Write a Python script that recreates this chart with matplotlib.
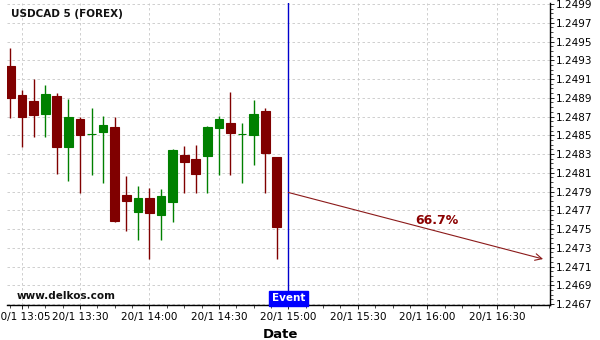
import matplotlib
matplotlib.use("Agg")
import matplotlib.pyplot as plt
from matplotlib.patches import Rectangle
from matplotlib.ticker import MultipleLocator, FixedLocator

# ---- data ----
times = ["13:00", "13:05", "13:10", "13:15", "13:20", "13:25", "13:30", "13:35",
         "13:40", "13:45", "13:50", "13:55", "14:00", "14:05", "14:10", "14:15",
         "14:20", "14:25", "14:30", "14:35", "14:40", "14:45", "14:50", "14:55"]
opens  = [1.24924, 1.24893, 1.24887, 1.24873, 1.24892, 1.24838, 1.24867, 1.24851,
          1.24853, 1.24859, 1.24786, 1.24768, 1.24783, 1.24765, 1.24779, 1.24829,
          1.24825, 1.24828, 1.24858, 1.24863, 1.24851, 1.24850, 1.24876, 1.24827]
highs  = [1.24943, 1.24898, 1.24910, 1.24904, 1.24895, 1.24889, 1.24870, 1.24879,
          1.24871, 1.24869, 1.24807, 1.24796, 1.24794, 1.24793, 1.24835, 1.24839,
          1.24840, 1.24860, 1.24871, 1.24896, 1.24863, 1.24888, 1.24879, 1.24827]
lows   = [1.24868, 1.24837, 1.24848, 1.24848, 1.24809, 1.24801, 1.24788, 1.24808,
          1.24799, 1.24758, 1.24748, 1.24738, 1.24718, 1.24738, 1.24758, 1.24788,
          1.24788, 1.24788, 1.24808, 1.24808, 1.24799, 1.24818, 1.24788, 1.24718]
closes = [1.24890, 1.24869, 1.24872, 1.24894, 1.24837, 1.24869, 1.24850, 1.24851,
          1.24861, 1.24759, 1.24780, 1.24783, 1.24767, 1.24785, 1.24834, 1.24822,
          1.24809, 1.24859, 1.24867, 1.24852, 1.24851, 1.24873, 1.24831, 1.24752]

event_time = "15:00"
arrow_start = ("15:00", 1.24789)
arrow_end = ("16:50", 1.24718)
arrow_label = "66.7%"
title = "USDCAD 5 (FOREX)"
watermark = "www.delkos.com"
xtick_times = ["13:05", "13:30", "14:00", "14:30", "15:00", "15:30", "16:00", "16:30"]
date_prefix = "20/1 "


def tmin(s):
    h, m = s.split(":")
    return (int(h) - 13) * 60 + int(m)


RED = "#800000"
GREEN = "#008000"

fig = plt.figure(figsize=(6, 3.4), dpi=100)
ax = fig.add_axes([0.0117, 0.103, 0.905, 0.888])

width = 3.75
for t, o, h, l, c in zip(times, opens, highs, lows, closes):
    x = tmin(t)
    col = GREEN if c >= o else RED
    ax.vlines(x, l, h, color=col, linewidth=1.0, zorder=3)
    bottom = min(o, c)
    height = max(abs(c - o), 0.000002)
    ax.add_patch(Rectangle((x - width / 2, bottom), width, height,
                           facecolor=col, edgecolor=col, linewidth=0.8, zorder=4))

ax.set_xlim(-1.5, 233)
ax.set_ylim(1.24669, 1.24991)

# event line
ex = tmin(event_time)
ax.axvline(ex, color="#0000cc", linewidth=1.0, zorder=5)
ax.text(ex, 1.24669 + 0.00007, "Event", color="white", fontsize=7.5, fontweight="bold",
        ha="center", va="center", zorder=6,
        bbox=dict(boxstyle="square,pad=0.25", facecolor="#0000ff", edgecolor="#0000ff"))

# arrow
ax.annotate("", xy=(tmin(arrow_end[0]), arrow_end[1]),
            xytext=(tmin(arrow_start[0]), arrow_start[1]),
            arrowprops=dict(arrowstyle="->", color="#8b1a1a", linewidth=0.8,
                            mutation_scale=12, shrinkA=0, shrinkB=0), zorder=5)
ax.text(184, 1.24759, arrow_label, color="#8b0000", fontsize=9, fontweight="bold",
        ha="center", va="center", zorder=6)

# texts
ax.text(0.008, 0.963, title, transform=ax.transAxes, fontsize=7.5, fontweight="bold",
        ha="left", va="center", color="#111111")
ax.text(0.017, 0.03, watermark, transform=ax.transAxes, fontsize=7.5, fontweight="bold",
        ha="left", va="center", color="#111111")

# axes styling
for s in ["left", "top"]:
    ax.spines[s].set_visible(False)
ax.spines["bottom"].set_linewidth(1.0)
ax.spines["right"].set_linewidth(1.0)
ax.yaxis.tick_right()
ax.yaxis.set_major_locator(MultipleLocator(0.0002))
ax.yaxis.set_minor_locator(MultipleLocator(0.00005))
ax.set_yticks([1.2467 + 0.0002 * i for i in range(17)])
ax.set_yticklabels([f"{1.2467 + 0.0002 * i:.4f}" for i in range(17)])
ax.set_xticks([tmin(t) for t in xtick_times])
ax.set_xticklabels([date_prefix + t for t in xtick_times])
ax.xaxis.set_minor_locator(FixedLocator([7.5 * k for k in range(32)]))
ax.tick_params(axis="both", which="major", labelsize=7.5, length=3, width=0.6, colors="black")
ax.tick_params(axis="both", which="minor", length=2, width=0.5)
ax.tick_params(axis="y", pad=1)
ax.tick_params(axis="x", pad=2)
ax.grid(True, which="major", color="#c8c8c8", linestyle=(0, (3, 3)), linewidth=0.6)
ax.set_axisbelow(True)
ax.set_xlabel("Date", fontsize=9.5, fontweight="bold", labelpad=0)
ax.xaxis.set_label_coords(0.503, -0.075)

fig.savefig("out.png", dpi=100)
